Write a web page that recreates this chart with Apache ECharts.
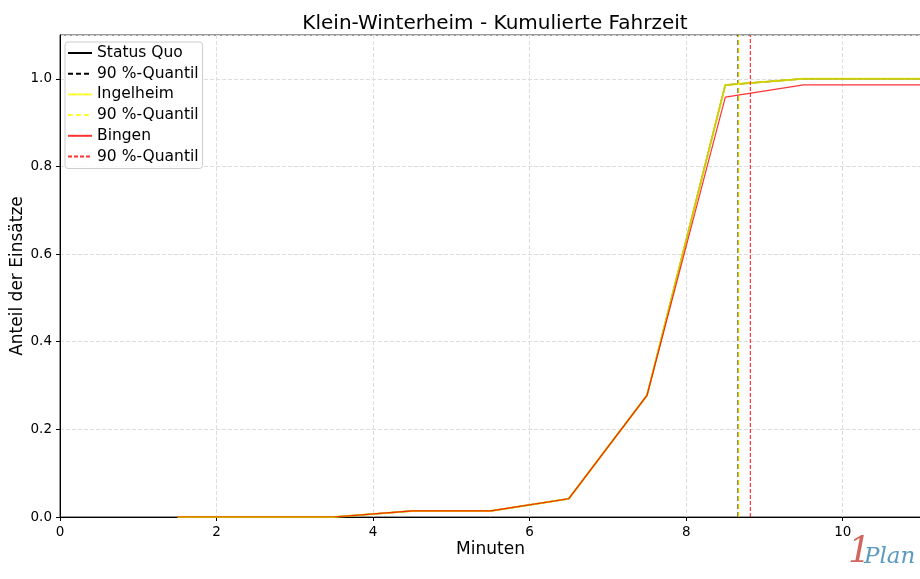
<!DOCTYPE html>
<html><head><meta charset="utf-8">
<script src="https://cdn.jsdelivr.net/npm/echarts@6/dist/echarts.min.js"></script>
<style>html,body{margin:0;padding:0;background:#fff}#c{width:920px;height:579px}</style>
</head><body><div id="c"></div>
<script>
const minutes = [1.5,2.5,3.5,4.5,5.5,6.5,7.5,8.5,9.5,10.5,11.5];
const statusQuo = [0,0,0,0.0139,0.0139,0.0417,0.2778,0.9861,1,1,1];
const ingelheim = [0,0,0,0.0139,0.0139,0.0417,0.2778,0.9861,1,1,1];
const bingen = [0,0,0,0.0139,0.0139,0.0417,0.2778,0.9583,0.9861,0.9861,0.9861];
const q90StatusQuo = 8.665;
const q90Ingelheim = 8.67;
const q90Bingen = 8.82;
const yTop = 1.1;

const pts = (ys) => minutes.map((x,i)=>[x, ys[i]]);
const vline = (x) => [[x,0],[x,yTop]];
const font = 'DejaVu Sans';
const YEL = 'rgba(255,255,0,0.8)';
const RED = 'rgba(255,0,0,0.8)';
const chart = echarts.init(document.getElementById('c'));
chart.setOption({
  animation:false,
  textStyle:{fontFamily:font},
  title:{text:'Klein-Winterheim - Kumulierte Fahrzeit',left:490,textAlign:'center',top:9,
    textStyle:{fontFamily:font,fontSize:20,fontWeight:'normal',color:'#000'}},
  grid:{left:60,right:-1,top:35,bottom:62,show:true,borderColor:'#333',borderWidth:1,outerBoundsMode:'none',containLabel:false},
  legend:{orient:'vertical',left:65,top:42,padding:[3,4,4,2],itemGap:4.7,itemWidth:24,itemHeight:15,
    backgroundColor:'rgba(255,255,255,0.85)',borderColor:'#ccc',borderWidth:1,borderRadius:3,
    itemStyle:{opacity:0},
    formatter:n=>n.trim(),
    textStyle:{fontFamily:font,fontSize:15.5,color:'#000'},
    data:['Status Quo','90 %-Quantil','Ingelheim','90 %-Quantil ','Bingen','90 %-Quantil  ']},
  xAxis:{type:'value',min:0,max:11,interval:2,
    name:'Minuten',nameLocation:'middle',nameGap:24,nameMoveOverlap:false,nameTextStyle:{fontFamily:font,fontSize:17,color:'#000',verticalAlign:'top'},
    axisLine:{lineStyle:{color:'#000'}},axisTick:{show:true,length:4,lineStyle:{color:'#000'}},
    axisLabel:{fontFamily:font,fontSize:13.5,color:'#000',showMaxLabel:false},
    splitLine:{show:true,lineStyle:{color:'#ddd',type:'dashed'}}},
  yAxis:{type:'value',min:0,max:yTop,interval:0.2,
    name:'Anteil der Einsätze',nameLocation:'middle',nameGap:34,nameMoveOverlap:false,nameTextStyle:{fontFamily:font,fontSize:17,color:'#000'},
    axisLine:{show:true,lineStyle:{color:'#000'}},axisTick:{show:true,length:4,lineStyle:{color:'#000'}},
    axisLabel:{fontFamily:font,fontSize:13.5,color:'#000',showMaxLabel:false,formatter:v=>v.toFixed(1)},
    splitLine:{show:true,lineStyle:{color:'#ddd',type:'dashed'}}},
  series:[
    {name:'Status Quo',type:'line',data:pts(statusQuo),symbol:'none',lineStyle:{color:'#000',width:1.5},itemStyle:{color:'#000'}},
    {name:'90 %-Quantil',type:'line',data:vline(q90StatusQuo),symbol:'none',lineStyle:{color:'#000',width:1.5,type:[5,3]},itemStyle:{color:'#000'}},
    {name:'Ingelheim',type:'line',data:pts(ingelheim),symbol:'none',lineStyle:{color:YEL,width:2},itemStyle:{color:YEL}},
    {name:'90 %-Quantil ',type:'line',data:vline(q90Ingelheim),symbol:'none',lineStyle:{color:YEL,width:1.5,type:[5,3]},itemStyle:{color:YEL}},
    {name:'Bingen',type:'line',data:pts(bingen),symbol:'none',lineStyle:{color:RED,width:1.2},itemStyle:{color:RED}},
    {name:'90 %-Quantil  ',type:'line',data:vline(q90Bingen),symbol:'none',lineStyle:{color:RED,width:1.2,type:[4,2]},itemStyle:{color:RED}}
  ],
  graphic:[
    {type:'text',left:848,top:535,style:{text:'1',font:'italic 36px "DejaVu Serif"',fill:'#d0675f'}},
    {type:'text',left:864,top:546,style:{text:'Plan',font:'italic 23px "DejaVu Serif"',fill:'#5b9bbf'}}
  ]
});
</script></body></html>
